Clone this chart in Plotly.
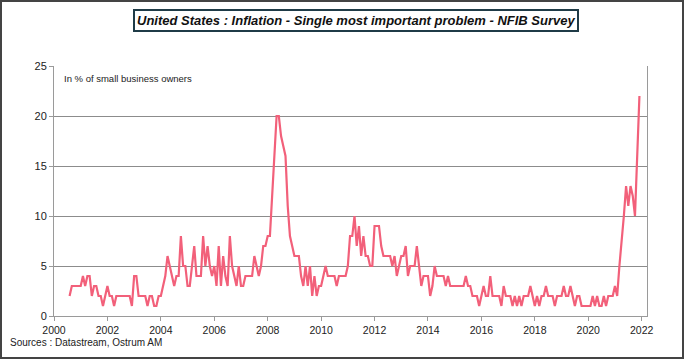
import pandas as pd
import plotly.graph_objects as go

# Monthly share of small business owners citing inflation as single most important problem (%)
start_month = "2000-08-01"
values = [
    2, 3, 3, 3, 3, 3, 4, 3, 4, 4, 2, 3, 3, 2, 2, 1,
    2, 3, 2, 2, 1, 2,
    2, 2, 2, 2, 2, 2,
    1,
    4, 4,
    2, 2, 2, 2,
    1,
    2, 2,
    1, 1,
    2, 2, 3, 4, 6, 5, 4, 3, 4, 4, 8, 5, 5, 3, 3, 5, 7,
    4, 4, 4, 8, 5, 7, 5, 4, 5, 3, 7, 3, 6, 4, 3, 8, 5, 4, 3, 5, 3, 3, 4, 4, 4, 4,
    6, 5, 4, 5, 7, 7, 8, 8, 12, 15, 20, 20, 18, 17, 16, 11, 8, 7, 6, 6, 6, 4, 3,
    5, 3, 5, 2, 4, 2,
    3, 3, 4, 5, 4, 4, 4, 4, 3, 4,
    4, 4, 4, 5, 8, 8, 10, 7, 9, 6,
    8, 6, 6, 5, 5, 9, 9, 9, 7, 6,
    6, 6, 6, 5, 6, 4, 5, 6, 6, 7,
    4, 5, 5, 5, 7, 5, 3, 4, 4, 4,
    2, 3, 5, 4, 4, 4, 4, 3, 4, 3,
    3, 3, 3, 3, 3, 3, 4, 3, 3, 2,
    2, 2, 1, 2, 3, 2, 2, 4, 2, 2,
    2, 2, 1, 3, 2, 2, 2, 1, 2, 1,
    2, 1, 2, 2, 2, 3, 2, 1, 2, 1,
    2, 2, 3, 2, 2, 2, 1, 2, 2, 2,
    3, 2, 2, 3, 2, 1, 2, 2, 1,
    1, 1, 1, 1, 2, 1, 2, 1, 1, 2, 1, 2, 2, 2, 3, 2, 5, 8, 10, 13, 11, 13, 12, 10, 17, 22,
]
dates = pd.date_range(start_month, periods=len(values), freq="MS")
years = dates.year + (dates.month - 1) / 12.0

x_ticks = [2000, 2002, 2004, 2006, 2008, 2010, 2012, 2014, 2016, 2018, 2020, 2022]
y_ticks = [0, 5, 10, 15, 20, 25]

title_text = "United States : Inflation - Single most important problem - NFIB Survey"
unit_text = "In % of small business owners"
source_text = "Sources : Datastream, Ostrum AM"

W, H = 684, 359
ML, MR, MT, MB = 54, 37, 66, 43
PW, PH = W - ML - MR, H - MT - MB

fig = go.Figure()
fig.add_trace(go.Scatter(
    x=years, y=values, mode="lines",
    line=dict(color="#F2607A", width=2.2),
    hoverinfo="skip", showlegend=False,
))

def px_x(p):
    return (p - ML) / PW

def px_y(p):
    return 1 - (p - MT) / PH

fig.update_layout(
    width=W, height=H,
    margin=dict(l=ML, r=MR, t=MT, b=MB),
    paper_bgcolor="white", plot_bgcolor="white",
    font=dict(family="Liberation Sans, Arial", size=11, color="#222"),
    xaxis=dict(
        range=[2000, 2022.2], tickvals=x_ticks, ticktext=[str(t) for t in x_ticks],
        showgrid=False, zeroline=False,
        showline=True, linecolor="#9a9a9a", linewidth=1,
        ticks="outside", ticklen=4, tickcolor="#9a9a9a",
        tickfont=dict(size=10.5, color="#222"),
    ),
    yaxis=dict(
        range=[0, 25], tickvals=y_ticks,
        showgrid=True, gridcolor="#8c8c8c", gridwidth=1,
        zeroline=False,
        showline=True, linecolor="#9a9a9a", linewidth=1, mirror=True,
        ticks="outside", ticklen=4, tickcolor="#9a9a9a",
        tickfont=dict(size=11, color="#222"),
    ),
    annotations=[
        dict(
            text="<b><i>" + title_text + "</i></b>",
            xref="paper", yref="paper", x=px_x(356), y=px_y(20),
            xanchor="center", yanchor="middle", showarrow=False,
            font=dict(family="Liberation Sans, Arial", size=13, color="#111"),
            bordercolor="#1f3b47", borderwidth=2, borderpad=2, bgcolor="white",
        ),
        dict(
            text=unit_text, xref="paper", yref="paper",
            x=px_x(62), y=px_y(78), xanchor="left", yanchor="middle",
            showarrow=False, font=dict(size=9.5, color="#222"),
        ),
        dict(
            text=source_text, xref="paper", yref="paper",
            x=px_x(8), y=px_y(342), xanchor="left", yanchor="middle",
            showarrow=False, font=dict(size=10, color="#222"),
        ),
    ],
    shapes=[
        dict(
            type="rect", xref="paper", yref="paper",
            x0=px_x(1), x1=px_x(W - 1), y0=px_y(H - 1), y1=px_y(1),
            line=dict(color="#444", width=2), fillcolor="rgba(0,0,0,0)", layer="below",
        ),
    ],
)

fig.write_html(
    "out.html",
    config={"displayModeBar": False},
    post_script="document.body.style.margin='0px';document.body.style.padding='0px';",
)
